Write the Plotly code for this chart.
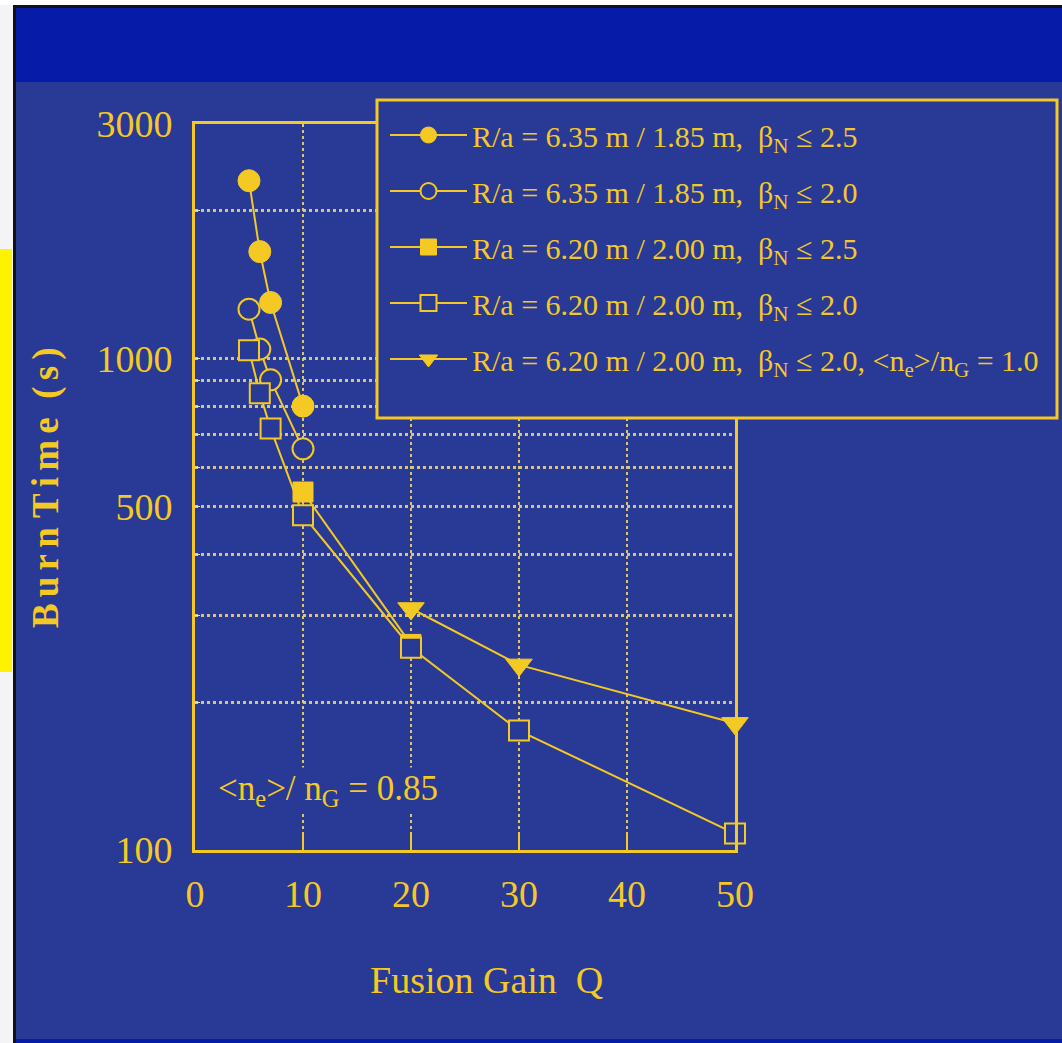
import math
import plotly.graph_objects as go

# ---- data -------------------------------------------------------------
q_circle = [5, 6, 7, 10]
burn_circle_b25 = [2300, 1650, 1300, 800]      # R/a = 6.35/1.85, beta_N <= 2.5
burn_circle_b20 = [1260, 1045, 905, 655]       # R/a = 6.35/1.85, beta_N <= 2.0

q_square_b25 = [10, 20]
burn_square_b25 = [535, 262]                   # R/a = 6.20/2.00, beta_N <= 2.5

q_square_b20 = [5, 6, 7, 10, 20, 30, 50]
burn_square_b20 = [1040, 850, 720, 480, 258, 175, 108]  # R/a = 6.20/2.00, beta_N <= 2.0

q_tri = [20, 30, 50]
burn_tri = [310, 238, 181]                     # same, <n_e>/n_G = 1.0

x_ticks = [0, 10, 20, 30, 40, 50]
y_grid = [100, 200, 300, 400, 500, 600, 700, 800, 900, 1000, 2000, 3000]
y_labels = {100: "100", 500: "500", 1000: "1000", 3000: "3000"}

series_names = [
    "R/a = 6.35 m / 1.85 m,\u00a0\u00a0β<sub>N</sub> ≤ 2.5",
    "R/a = 6.35 m / 1.85 m,\u00a0\u00a0β<sub>N</sub> ≤ 2.0",
    "R/a = 6.20 m / 2.00 m,\u00a0\u00a0β<sub>N</sub> ≤ 2.5",
    "R/a = 6.20 m / 2.00 m,\u00a0\u00a0β<sub>N</sub> ≤ 2.0",
    "R/a = 6.20 m / 2.00 m,\u00a0\u00a0β<sub>N</sub> ≤ 2.0, &lt;n<sub>e</sub>&gt;/n<sub>G</sub> = 1.0",
]

# ---- style ------------------------------------------------------------
W, H = 1062, 1043
BG = "#283996"
BAR = "#061ca8"
YEL = "#f5c924"
GRID = "rgba(226,204,118,0.95)"
FONT = "Liberation Serif"


def px_x(p):
    return p / W


def px_y(p):
    return 1 - p / H


plot_left, plot_right, plot_top, plot_bottom = 195, 735, 124, 850

fig = go.Figure()

common_line = dict(color=YEL, width=2)

fig.add_trace(go.Scatter(
    x=q_circle, y=burn_circle_b25, name=series_names[0], legendgroup="a",
    mode="lines+markers", line=common_line, cliponaxis=False,
    marker=dict(symbol="circle", size=22, color=YEL, line=dict(color=YEL, width=1))))
fig.add_trace(go.Scatter(
    x=q_circle, y=burn_circle_b20, name=series_names[1], legendgroup="b",
    mode="lines+markers", line=common_line, cliponaxis=False,
    marker=dict(symbol="circle", size=21, color=BG, line=dict(color=YEL, width=2))))
fig.add_trace(go.Scatter(
    x=q_square_b25, y=burn_square_b25, name=series_names[2], legendgroup="c",
    mode="lines+markers", line=common_line, cliponaxis=False,
    marker=dict(symbol="square", size=20, color=YEL, line=dict(color=YEL, width=1))))
fig.add_trace(go.Scatter(
    x=q_square_b20, y=burn_square_b20, name=series_names[3], legendgroup="d",
    mode="lines+markers", line=common_line, cliponaxis=False,
    marker=dict(symbol="square", size=20, color=BG, line=dict(color=YEL, width=2))))
fig.add_trace(go.Scatter(
    x=q_tri, y=burn_tri, name=series_names[4], legendgroup="e",
    mode="lines+markers", line=common_line, cliponaxis=False,
    marker=dict(symbol="triangle-down", size=23, color=YEL, line=dict(color=YEL, width=1))))

# ---- slide decoration -------------------------------------------------
shapes = [
    # white page edges
    dict(type="rect", xref="paper", yref="paper", x0=0, x1=px_x(14), y0=0, y1=1,
         fillcolor="#f4f4f6", line_width=0, layer="below"),
    dict(type="rect", xref="paper", yref="paper", x0=0, x1=1, y0=px_y(5), y1=1,
         fillcolor="#ffffff", line_width=0, layer="below"),
    # dark frame edges
    dict(type="rect", xref="paper", yref="paper", x0=px_x(13), x1=px_x(16), y0=0, y1=px_y(5),
         fillcolor="#111111", line_width=0, layer="below"),
    dict(type="rect", xref="paper", yref="paper", x0=px_x(13), x1=1, y0=px_y(8), y1=px_y(5),
         fillcolor="#111111", line_width=0, layer="below"),
    # title band and bottom band
    dict(type="rect", xref="paper", yref="paper", x0=px_x(16), x1=1, y0=px_y(82), y1=px_y(8),
         fillcolor=BAR, line_width=0, layer="below"),
    dict(type="rect", xref="paper", yref="paper", x0=px_x(16), x1=1, y0=0, y1=px_y(1039),
         fillcolor=BAR, line_width=0, layer="below"),
    # yellow side marker
    dict(type="rect", xref="paper", yref="paper", x0=0, x1=px_x(12), y0=px_y(672), y1=px_y(249),
         fillcolor="#fff200", line_width=0, layer="below"),
    # legend box (covers the grid and frame behind the key)
    dict(type="rect", xref="paper", yref="paper", x0=px_x(377), x1=px_x(1057),
         y0=px_y(418), y1=px_y(100), fillcolor=BG, line=dict(color=YEL, width=3),
         layer="above"),
]

sp = "\u2006"
burn_label = sp.join("Burn") + "\u00a0" + sp.join("Time") + "\u00a0\u00a0" + sp.join("(s)")

annotations = [
    dict(text="Fusion Gain\u00a0\u00a0Q", xref="paper", yref="paper",
         x=px_x(486), y=px_y(980), xanchor="center", yanchor="middle", showarrow=False,
         font=dict(family=FONT, size=38, color=YEL)),
    dict(text="<b>" + burn_label + "</b>", xref="paper", yref="paper",
         x=px_x(46), y=px_y(488), xanchor="center", yanchor="middle",
         showarrow=False, textangle=-90,
         font=dict(family=FONT, size=37, color=YEL)),
    dict(text="&lt;n<sub>e</sub>&gt;/ n<sub>G</sub> = 0.85", xref="paper", yref="paper",
         x=px_x(328), y=px_y(790), xanchor="center", yanchor="middle",
         showarrow=False, bgcolor=BG,
         font=dict(family=FONT, size=35, color=YEL)),
]

fig.update_layout(
    width=W, height=H,
    margin=dict(l=0, r=0, t=0, b=0, pad=0, autoexpand=False),
    paper_bgcolor=BG, plot_bgcolor=BG,
    shapes=shapes, annotations=annotations,
    showlegend=True,
    legend=dict(
        x=px_x(385), y=px_y(109), xanchor="left", yanchor="top",
        bgcolor="rgba(0,0,0,0)", borderwidth=0,
        font=dict(family=FONT, size=30, color=YEL),
        itemwidth=77, tracegroupgap=14, itemclick=False,
    ),
    xaxis=dict(
        domain=[px_x(plot_left), px_x(plot_right)], range=[0, 50],
        tickvals=x_ticks, ticktext=[str(v) for v in x_ticks],
        tickfont=dict(family=FONT, size=38, color=YEL),
        ticks="inside", ticklen=18, tickwidth=2, tickcolor=YEL,
        ticklabelstandoff=8, automargin=False,
        showline=True, mirror=True, linecolor=YEL, linewidth=3,
        showgrid=True, gridcolor=GRID, gridwidth=1.5, griddash="dot",
        zeroline=False,
    ),
    yaxis=dict(
        type="log", domain=[px_y(plot_bottom), px_y(plot_top)],
        range=[2, math.log10(3000)],
        tickvals=y_grid, ticktext=[y_labels.get(v, "") for v in y_grid],
        tickfont=dict(family=FONT, size=38, color=YEL),
        ticks="inside", ticklen=5, tickwidth=1, tickcolor="#e8e2c0",
        ticklabelstandoff=12, automargin=False,
        showline=True, mirror=True, linecolor=YEL, linewidth=3,
        showgrid=True, gridcolor=GRID, gridwidth=2.5, griddash="dot",
        zeroline=False,
    ),
)

fig.write_html("out.html")
